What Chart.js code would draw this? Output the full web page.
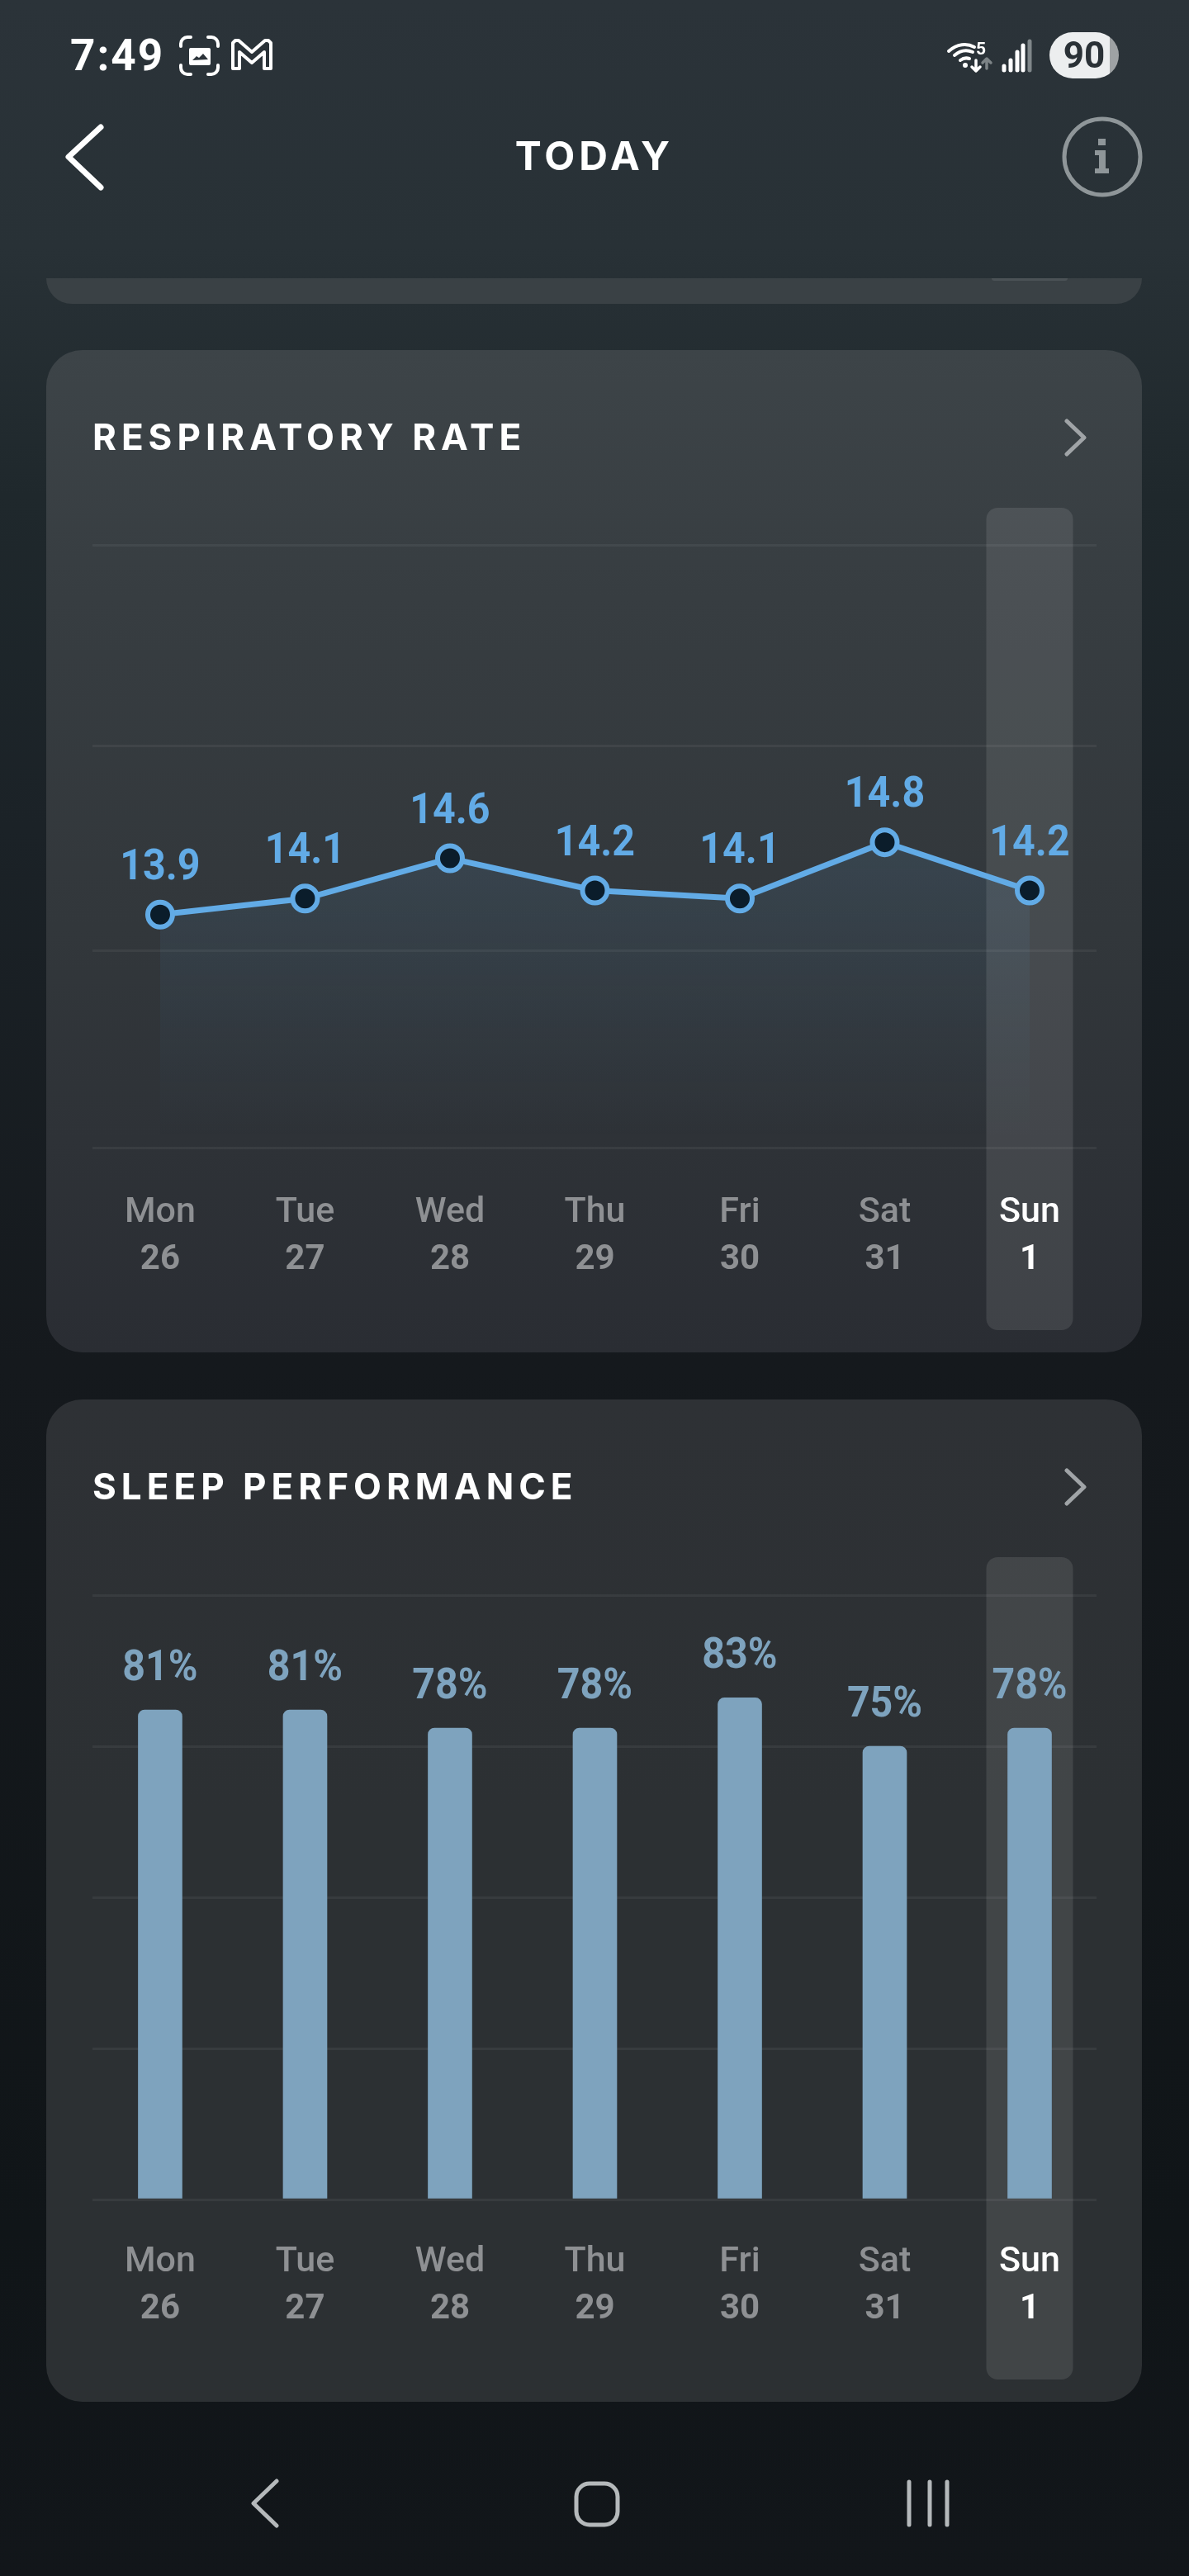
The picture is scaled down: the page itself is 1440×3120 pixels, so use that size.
<!DOCTYPE html>
<html lang="en">
<head>
<meta charset="utf-8">
<title>Today</title>
<script src="https://cdn.jsdelivr.net/npm/chart.js@4"></script>
<style>
  html,body{margin:0;padding:0;background:#11161a}
  #screen{position:relative;width:1440px;height:3120px;overflow:hidden;font-family:Inter,Roboto,sans-serif;color:#fff;
    background:linear-gradient(180deg,#2b3339 0,#283136 300px,#1f282c 600px,#1b2227 1000px,#15191d 1650px,#101518 2700px,#12161a 3120px)}
  .card{position:absolute;left:56px;width:1327px;height:1214px;border-radius:44px;overflow:hidden}
  #respCard{top:424px;background:linear-gradient(180deg,#3d4448 0,#373d41 300px,#32373b 700px,#2a2d33 1214px)}
  #sleepCard{top:1695px;background:linear-gradient(180deg,#2e3135 0,#2c3033 500px,#2c3033 1214px)}
  #stub{position:absolute;left:56px;top:337px;width:1327px;height:31px;background:#3a4145;border-radius:0 0 36px 36px}
  #stub i{position:absolute;left:1145px;top:0;width:92px;height:3px;background:#4b5256;border-radius:0 0 3px 3px}
  .card canvas{position:absolute;left:0;top:0}
  .title{position:absolute;left:56px;top:78px;font:700 44px/54px Inter,sans-serif;letter-spacing:6px;white-space:nowrap}
  #clock{position:absolute;left:85px;top:36px;font:700 53px/62px Roboto,sans-serif;letter-spacing:2px}
  #heading{position:absolute;left:0;width:1440px;top:160px;text-align:center;font:700 48px/58px Inter,sans-serif;letter-spacing:5px}
  #battery{position:absolute;left:1271px;top:39px;width:84px;height:56px;border-radius:28px;overflow:hidden;background:linear-gradient(90deg,#eceeef 0,#eceeef 87%,#9ea2a4 87%);
    color:#2a3136;text-align:center;font:700 44px/56px Roboto,sans-serif}
  #wifi5{position:absolute;left:1182px;top:47px;font:700 21px/24px Roboto,sans-serif}
  svg{position:absolute;left:0;top:0}
</style>
</head>
<body>
<div id="screen">
  <div id="stub"><i></i></div>

  <div class="card" id="respCard">
    <canvas id="respChart" width="1327" height="1214"></canvas>
    <div class="title">RESPIRATORY RATE</div>
  </div>
  <div class="card" id="sleepCard">
    <canvas id="sleepChart" width="1327" height="1214"></canvas>
    <div class="title">SLEEP PERFORMANCE</div>
  </div>

  <!-- status bar, header and navigation glyphs -->
  <svg width="1440" height="3120" fill="none" stroke-linecap="round" stroke-linejoin="round">
    <g stroke="#fff" stroke-width="4">
      <path d="M219 56v-3a8 8 0 0 1 8-8h4M252 45h4a8 8 0 0 1 8 8v3M219 79v3a8 8 0 0 0 8 8h4M252 90h4a8 8 0 0 0 8-8v-3"/>
      <path d="M282 83V52l3-3 4 0 16 14 16-14 4 0 3 3v31h-8V63l-15 13-15-13v20z"/>
    </g>
    <path d="M231 58h22a2 2 0 0 1 2 2v17a2 2 0 0 1-2 2h-22a2 2 0 0 1-2-2V60a2 2 0 0 1 2-2z" fill="#fff"/>
    <path d="M233 73l5-5 3 2 5-5 6 7z" fill="#2b3339"/>
    <g stroke="#fff" stroke-width="4">
      <path d="M1149 62c10-9 22-10 31-5M1156 67c7-6 15-7 22-4M1163 73c4-3 8-3 11-2"/>
      <path d="M1182 73v13M1177 81l5 5 5-5" stroke-width="3.5"/>
    </g>
    <circle cx="1169" cy="79" r="3" fill="#fff"/>
    <path d="M1195 83V72M1190 76l5-5 5 5" stroke="#7d8487" stroke-width="3.5"/>
    <g stroke-width="5">
      <path d="M1216 85v-5M1224 85V73M1232 85V63M1239 85V55" stroke="#fff"/>
      <path d="M1247 85V50" stroke="#80878a"/>
    </g>
    <path d="M122 154L83 190l39 37" stroke="#fff" stroke-width="7"/>
    <circle cx="1335" cy="190" r="46" stroke="#8f9699" stroke-width="5"/>
    <g fill="#8f9699">
      <rect x="1330" y="168" width="9" height="8"/>
      <path d="M1326 182h13v22h4v6h-17v-6h5v-16h-5z"/>
    </g>
    <g stroke="#a0a4a7" stroke-width="5">
      <path d="M1292 510l21 20-21 20"/>
      <path d="M1292 1781l21 20-21 20"/>
    </g>
    <g stroke="#b5b9bb" stroke-width="5">
      <path d="M335 3005l-28 27 28 27"/>
      <rect x="698" y="3008" width="50" height="50" rx="16"/>
      <path d="M1101 3006v52M1126 3006v52M1147 3006v52"/>
    </g>
  </svg>

  <div id="clock">7:49</div>
  <div id="wifi5">5</div>
  <div id="battery">90</div>
  <div id="heading">TODAY</div>
</div>

<script>
const dayLabels = ['Mon', 'Tue', 'Wed', 'Thu', 'Fri', 'Sat', 'Sun'];
const dateLabels = ['26', '27', '28', '29', '30', '31', '1'];
const respValues = [13.9, 14.1, 14.6, 14.2, 14.1, 14.8, 14.2];
const respGrid = [11, 13.45, 16, 18.5];
const sleepValues = [81, 81, 78, 78, 83, 75, 78];
const sleepGrid = [0, 25, 50, 75, 100];

const todayIndex = 6;
const tickGrey = '#8e9093';

// Highlighted column behind the current day
const todayBand = {
  id: 'todayBand',
  beforeDraw(chart, args, opts) {
    const {ctx, scales: {x}} = chart;
    const cx = x.getPixelForValue(todayIndex);
    ctx.save();
    ctx.fillStyle = opts.color;
    ctx.beginPath();
    ctx.roundRect(cx - 52.5, 191, 105, 996, 14);
    ctx.fill();
    ctx.restore();
  }
};

// Value text above each point or bar, squeezed a little horizontally
const valueLabels = {
  id: 'valueLabels',
  afterDatasetsDraw(chart, args, opts) {
    const {ctx} = chart;
    const meta = chart.getDatasetMeta(0);
    ctx.font = opts.font;
    ctx.fillStyle = opts.color;
    ctx.textAlign = 'center';
    ctx.textBaseline = 'middle';
    meta.data.forEach((el, i) => {
      ctx.save();
      ctx.translate(el.x, el.y - opts.gap);
      ctx.scale(0.93, 1);
      ctx.fillText(opts.format(chart.data.datasets[0].data[i].y), 0, 0);
      ctx.restore();
    });
  }
};

function buildScales(yMin, yMax, gridValues, dayPad, datePad) {
  const shared = {
    type: 'linear', min: -0.467, max: 6.4615, offset: false,
    grid: {display: false}, border: {display: false},
    afterBuildTicks: s => { s.ticks = dayLabels.map((_, i) => ({value: i})); }
  };
  const tickColor = c => c.index === todayIndex ? '#fff' : tickGrey;
  return {
    x: {...shared, weight: 0,
      afterFit: s => { s.height = 90; },
      ticks: {autoSkip: false, maxRotation: 0, padding: dayPad, color: tickColor,
        font: {family: 'Roboto', size: 43, weight: '500'},
        callback: v => dayLabels[v]}},
    x2: {...shared, axis: 'x', position: 'bottom', weight: 1,
      afterFit: s => { s.height = 80; },
      ticks: {autoSkip: false, maxRotation: 0, padding: datePad, color: tickColor,
        font: {family: 'Roboto', size: 42, weight: '700'},
        callback: v => dateLabels[v]}},
    y: {min: yMin, max: yMax,
      grid: {color: 'rgba(255,255,255,0.055)', lineWidth: 3, drawTicks: false},
      border: {display: false},
      ticks: {display: false},
      afterBuildTicks: s => { s.ticks = gridValues.map(v => ({value: v})); }}
  };
}

const baseOptions = (top, bottom) => ({
  responsive: false,
  animation: false,
  events: [],
  layout: {padding: {left: 56, right: 55, top, bottom}}
});

new Chart(document.getElementById('respChart'), {
  type: 'line',
  plugins: [todayBand, valueLabels],
  data: {
    datasets: [{
      data: respValues.map((y, x) => ({x, y})),
      borderColor: '#62abe6',
      borderWidth: 7,
      tension: 0,
      pointRadius: 15,
      pointBorderWidth: 6,
      pointBackgroundColor: '#0b1d2b',
      pointBorderColor: '#62abe6',
      fill: 'origin',
      backgroundColor(c) {
        const {chart} = c;
        const y = chart.scales.y;
        if (!y || !chart.chartArea) return 'transparent';
        const g = chart.ctx.createLinearGradient(0, y.getPixelForValue(14.8), 0, y.getPixelForValue(11.1));
        g.addColorStop(0, 'rgba(98,171,230,0.11)');
        g.addColorStop(1, 'rgba(98,171,230,0)');
        return g;
      }
    }]
  },
  options: {
    ...baseOptions(236, 78),
    scales: buildScales(11, 18.5, respGrid, 45, 13),
    plugins: {
      legend: {display: false}, tooltip: {enabled: false},
      todayBand: {color: 'rgba(255,255,255,0.10)'},
      valueLabels: {font: '700 52px Roboto', color: '#62abe6', gap: 56, format: v => v.toFixed(1)}
    }
  }
});

new Chart(document.getElementById('sleepChart'), {
  type: 'bar',
  plugins: [todayBand, valueLabels],
  data: {
    datasets: [{
      data: sleepValues.map((y, x) => ({x, y})),
      backgroundColor: '#7ea3be',
      barThickness: 53,
      borderSkipped: 'bottom',
      borderRadius: {topLeft: 8, topRight: 8}
    }]
  },
  options: {
    ...baseOptions(237, 75),
    scales: buildScales(0, 100, sleepGrid, 42, 10),
    plugins: {
      legend: {display: false}, tooltip: {enabled: false},
      todayBand: {color: 'rgba(255,255,255,0.10)'},
      valueLabels: {font: '700 52px Roboto', color: '#7ea3be', gap: 49, format: v => v + '%'}
    }
  }
});
</script>
</body>
</html>
